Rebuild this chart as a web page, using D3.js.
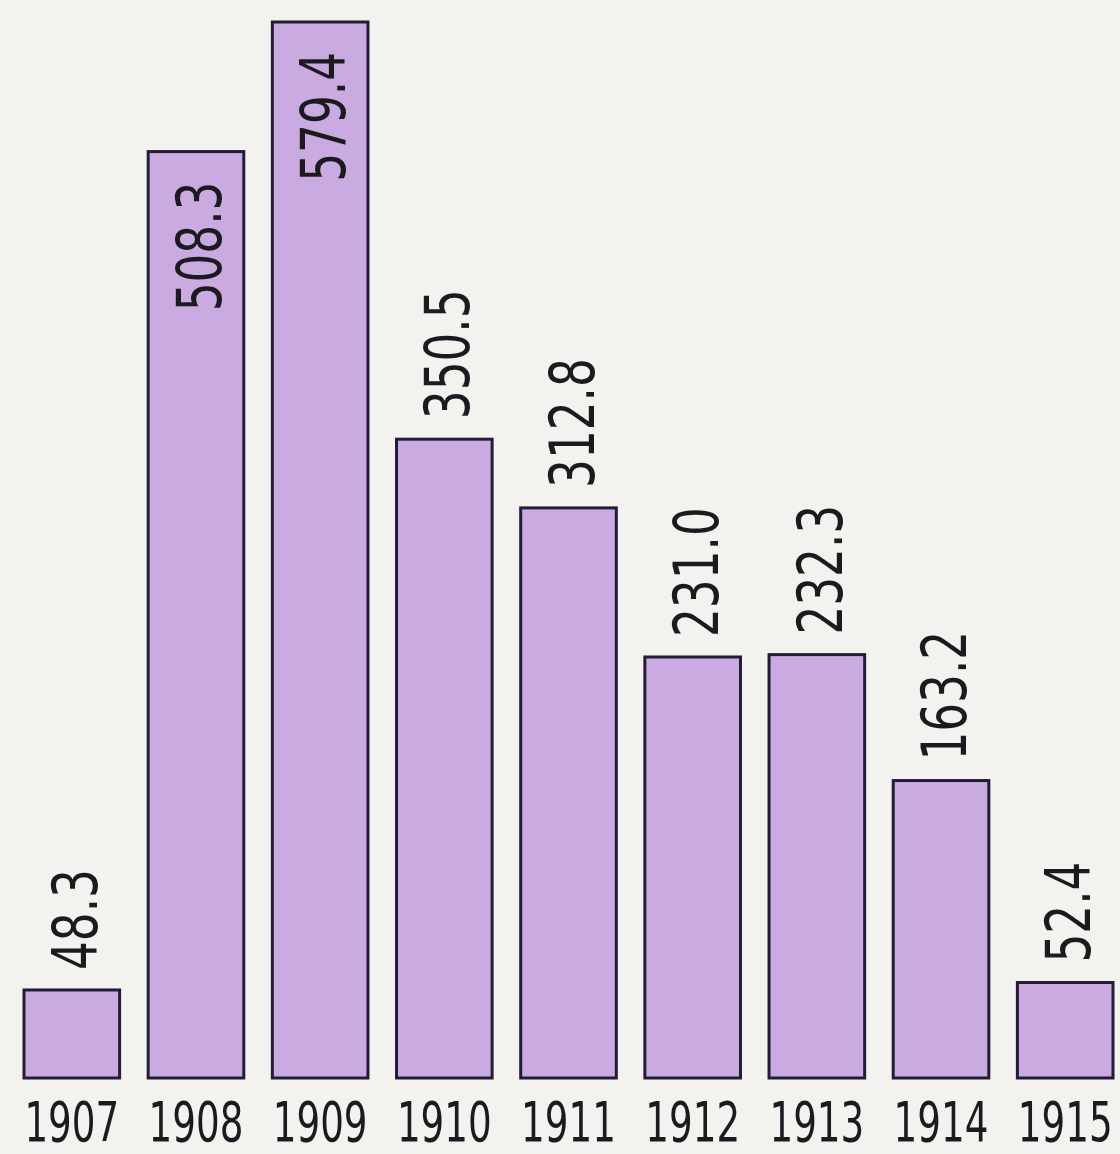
<!DOCTYPE html>
<html>
<head>
<meta charset="utf-8">
<title>1907-1915</title>
<script src="https://d3js.org/d3.v7.min.js"></script>
<style>
  body { margin: 0; background: #f3f2ef; }
  .lbl { font-family: "Liberation Sans Narrow", "DejaVu Sans Condensed", "Liberation Sans", sans-serif; fill: #1c1a1f; }
</style>
</head>
<body>
<script>
var years = ["1907", "1908", "1909", "1910", "1911", "1912", "1913", "1914", "1915"];
var values = [48.3, 508.3, 579.4, 350.5, 312.8, 231.0, 232.3, 163.2, 52.4];
var labels = ["48.3", "508.3", "579.4", "350.5", "312.8", "231.0", "232.3", "163.2", "52.4"];
var inside = ["1908", "1909"];

var W = 1120, H = 1154;
var svg = d3.select("body").append("svg").attr("width", W).attr("height", H);

var x = d3.scaleBand().domain(years).range([24, 1113]).paddingInner(0.23).paddingOuter(0);
var y = d3.scaleLinear().domain([0, 579.4]).range([1078, 22]);

var data = years.map(function (d, i) { return { year: d, value: values[i], label: labels[i] }; });

svg.selectAll("rect.bar")
  .data(data)
  .enter()
  .append("rect")
    .attr("class", "bar")
    .attr("x", function (d) { return x(d.year); })
    .attr("y", function (d) { return y(d.value); })
    .attr("width", x.bandwidth())
    .attr("height", function (d) { return y(0) - y(d.value); })
    .style("fill", "#c9abe2")
    .style("stroke", "#231c36")
    .style("stroke-width", 3);

// value labels, rotated, reading upwards
svg.selectAll("text.val")
  .data(data)
  .enter()
  .append("text")
    .attr("class", "lbl val")
    .attr("transform", function (d) {
      var cx = x(d.year) + x.bandwidth() / 2 + 25;
      var isIn = inside.indexOf(d.year) >= 0;
      var cy = isIn ? y(d.value) + 30 : y(d.value) - 20;
      return "translate(" + cx + "," + cy + ") rotate(-90) scale(0.8,1)";
    })
    .attr("text-anchor", function (d) { return inside.indexOf(d.year) >= 0 ? "end" : "start"; })
    .style("font-size", "63px")
    .text(function (d) { return d.label; });

// year labels
svg.selectAll("text.yr")
  .data(data)
  .enter()
  .append("text")
    .attr("class", "lbl yr")
    .attr("transform", function (d) {
      return "translate(" + (x(d.year) + x.bandwidth() / 2) + ",1141) scale(0.74,1)";
    })
    .attr("text-anchor", "middle")
    .style("font-size", "56px")
    .text(function (d) { return d.year; });
</script>
</body>
</html>
